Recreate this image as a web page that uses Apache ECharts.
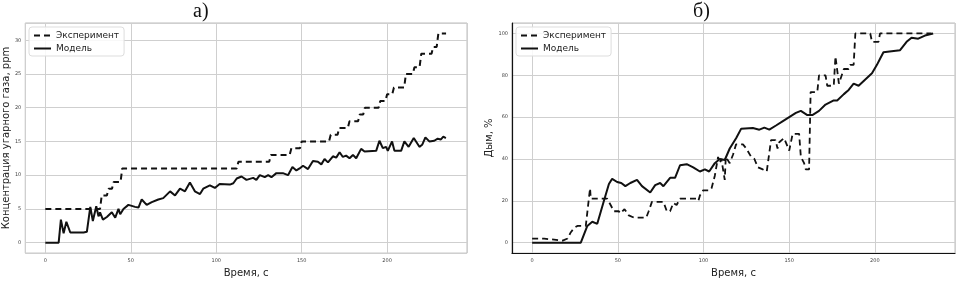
<!DOCTYPE html>
<html>
<head>
<meta charset="utf-8">
<script src="https://cdn.jsdelivr.net/npm/echarts@6/dist/echarts.min.js"></script>
<style>
  html, body { margin: 0; padding: 0; background: #fff; }
  #main { width: 959px; height: 283px; }
</style>
</head>
<body>
<div id="main"></div>
<script>
// а) CO concentration
var coExpT = [0, 32, 33, 36, 37, 39, 40, 44, 45, 112, 113, 131, 132, 143, 144, 149, 150, 166, 167, 171, 172, 177, 178, 183, 184, 186, 187, 195, 196, 199, 200, 203, 204, 210, 211, 215, 216, 219, 220, 226, 227, 229, 230, 234.5];
var coExpV = [5, 5, 7, 7, 8, 8, 9, 9, 11, 11, 12, 12, 13, 13, 14, 14, 15, 15, 16, 16, 17, 17, 18, 18, 19, 19, 20, 20, 21, 21, 22, 22, 23, 23, 25, 25, 26, 26, 28, 28, 29, 29, 31, 31];
var coModT = [0, 7.8, 9.1, 10.7, 12.3, 14.6, 19.5, 20.4, 22.4, 24.3, 26.3, 27.8, 29.8, 31.1, 32, 33.7, 36, 38.9, 40.9, 42.8, 43.8, 45.7, 48.6, 52.5, 54.5, 56.4, 59.3, 62.3, 66.1, 69, 73, 75.9, 78.8, 81.7, 84.6, 87.5, 90.5, 92.4, 96.3, 99.2, 102, 108, 110, 112, 114.8, 117.7, 121.6, 123.5, 125.5, 128.4, 130.4, 132.3, 135.2, 139, 142, 144.6, 146.9, 148.8, 150.8, 153.7, 156.6, 159.5, 161.5, 163.4, 165.4, 168.3, 170.2, 172.2, 174.1, 176, 178, 180, 181.9, 184.8, 186.8, 193.6, 195.5, 197.5, 199.4, 200.4, 202.9, 204.3, 208.2, 210.1, 212.6, 215.6, 218.9, 220.5, 222.4, 224.7, 227.6, 229.6, 231.5, 232.9, 234.4];
var coModV = [0, 0, 3.4, 1.4, 3.1, 1.5, 1.5, 1.7, 1.5, 1.6, 5.3, 3.2, 5.4, 3.9, 4.5, 3.4, 3.8, 4.5, 3.7, 5.0, 4.2, 5.0, 5.6, 5.3, 5.2, 6.4, 5.6, 6.0, 6.4, 6.6, 7.6, 7.0, 8.0, 7.6, 8.9, 7.6, 7.2, 8.0, 8.5, 8.1, 8.7, 8.6, 8.8, 9.5, 9.8, 9.3, 9.6, 9.3, 10.0, 9.7, 10.0, 9.7, 10.3, 10.3, 10.0, 11.2, 10.7, 11.0, 11.4, 10.9, 12.1, 12.0, 11.6, 12.4, 11.9, 12.8, 12.6, 13.4, 12.7, 12.9, 12.5, 13.0, 12.5, 13.9, 13.5, 13.6, 15.1, 14.0, 14.2, 13.6, 15.0, 13.6, 13.6, 15.0, 14.2, 15.5, 14.2, 14.5, 15.6, 15.0, 15.1, 15.4, 15.3, 15.7, 15.5];

// б) smoke
var smExpT = [0, 7, 8, 17.8, 20.7, 22.6, 24.5, 26.4, 31.3, 33.8, 34.2, 43.8, 45.8, 47.7, 50.6, 51.5, 53.9, 56.4, 59.3, 66.6, 68, 69.9, 76.6, 78.6, 80.5, 82.4, 84.3, 86.3, 96, 97, 97.9, 99.8, 103.7, 104.7, 106.6, 108.5, 109.5, 110.4, 111.4, 112.4, 113, 115.3, 117.2, 119, 123, 125, 127.8, 129.7, 131.7, 134.6, 136.9, 137.5, 139.4, 142, 143.2, 144.2, 147, 150, 152, 155.8, 156.8, 158.7, 159.7, 161.6, 162.5, 166.4, 167.4, 171.2, 172.2, 176, 177, 179, 181.9, 184.7, 185.6, 187.6, 188.6, 197.3, 198.3, 202.1, 203, 233];
var smExpV = [1.9, 1.9, 1, 1, 2, 5, 7, 8, 8, 26, 21, 21, 18, 15, 15, 14, 16, 13, 12, 12, 15, 19.5, 19.5, 15, 15, 19, 18, 21, 21, 20, 22.5, 25, 25, 26, 32, 41, 38, 40, 40, 30, 41, 38, 42, 47, 47, 45, 41, 40, 36, 35, 34, 34, 49, 49, 45, 48, 50, 44, 52, 52, 41, 38, 35, 35, 72, 72, 80, 80, 75, 75, 89, 76, 83, 83, 85, 85, 100, 100, 96, 96, 100, 100];
var smModT = [0, 28.4, 32.2, 35.1, 38, 41.9, 44.8, 46.7, 49.6, 52, 54.4, 57.3, 61.2, 64.1, 68.9, 71.8, 74.7, 76.6, 80.5, 83.4, 86.3, 90.2, 94, 97.9, 100.8, 103.3, 106.6, 109.5, 112.4, 115.3, 119.1, 122, 128.8, 132.6, 135.5, 138.4, 142.3, 146.1, 150, 153.9, 156.8, 160.6, 163.5, 167.4, 171.2, 176, 178, 181.9, 184.7, 187.6, 190.5, 194.4, 198.3, 201.2, 203.1, 205, 209.8, 214.7, 218.5, 221.4, 225.3, 229.2, 234];
var smModV = [0, 0, 8, 10, 9, 20, 28, 30.5, 29, 28.5, 27, 28.5, 30, 27, 24, 27.5, 28.5, 27, 31, 31, 37, 37.5, 36, 34, 35, 34, 38, 40, 39.5, 45, 50, 54.5, 54.8, 54, 55, 54, 56, 58, 60, 62, 63, 61, 61, 63, 66, 68, 68, 71, 73, 76, 75, 78, 81, 85, 88, 91, 91.5, 92, 96, 98, 97.5, 99, 100];

function pairs(t, v) {
  return t.map(function (x, i) { return [x, v[i]]; });
}

var chart = echarts.init(document.getElementById('main'));
var font = 'DejaVu Sans';
var gridColor = '#cfcfcf';

function xAx(gi) {
  return {
    type: 'value', gridIndex: gi, min: -11.75, max: 246.75, splitNumber: 5,
    name: 'Время, с', nameLocation: 'middle', nameGap: 12,
    nameTextStyle: { fontFamily: font, fontSize: 10, color: '#222' },
    axisLine: gi === 1 ? { show: true, onZero: false, lineStyle: { color: '#111', width: 1.2 } } : { show: false },
    axisTick: { show: false },
    axisLabel: { fontFamily: font, fontSize: 5, color: '#444', margin: 5, showMinLabel: false, showMaxLabel: false },
    splitLine: { show: true, lineStyle: { color: gridColor, width: 1 } }
  };
}
function yAx(gi, min, max, split, name, gap) {
  return {
    type: 'value', gridIndex: gi, min: min, max: max, splitNumber: split,
    name: name, nameLocation: 'middle', nameGap: gap,
    nameTextStyle: { fontFamily: font, fontSize: 10, color: '#222' },
    axisLine: gi === 1 ? { show: true, onZero: false, lineStyle: { color: '#111', width: 1.2 } } : { show: false },
    axisTick: { show: false },
    axisLabel: { fontFamily: font, fontSize: 5, color: '#444', margin: 4, showMinLabel: false, showMaxLabel: false },
    splitLine: { show: true, lineStyle: { color: gridColor, width: 1 } }
  };
}

function legend(left) {
  return {
    left: left, top: 27, orient: 'vertical',
    data: ['Эксперимент', 'Модель'],
    itemWidth: 17, itemHeight: 6, itemGap: 4,
    padding: [4, 5, 3, 4],
    borderColor: '#dddddd', borderWidth: 1, borderRadius: 3,
    backgroundColor: 'rgba(255,255,255,0.85)',
    itemStyle: { opacity: 0 },
    textStyle: { fontFamily: font, fontSize: 9, color: '#222' }
  };
}

var option = {
  animation: false,
  backgroundColor: '#fff',
  title: [
    { text: 'а)', left: 188, top: -3, textStyle: { fontFamily: 'Liberation Serif', fontSize: 20, fontWeight: 'normal', color: '#111' } },
    { text: 'б)', left: 688, top: -3, textStyle: { fontFamily: 'Liberation Serif', fontSize: 20, fontWeight: 'normal', color: '#111' } }
  ],
  grid: [
    { left: 25, right: 492, top: 23, bottom: 25, show: true, borderColor: '#bdbdbd', borderWidth: 1 },
    { left: 512, right: 4, top: 23, bottom: 24, show: true, borderColor: '#bdbdbd', borderWidth: 1 }
  ],
  legend: [legend(29), legend(516)],
  xAxis: [xAx(0), xAx(1)],
  yAxis: [
    yAx(0, -1.55, 32.55, 7, 'Концентрация угарного газа, ppm', 14),
    yAx(1, -5, 105, 5, 'Дым, %', 16)
  ],
  series: [
    { name: 'Эксперимент', type: 'line', xAxisIndex: 0, yAxisIndex: 0, data: pairs(coExpT, coExpV),
      showSymbol: false, symbol: 'none', lineStyle: { color: '#111', width: 2, type: [6, 4] }, itemStyle: { color: '#111' } },
    { name: 'Модель', type: 'line', xAxisIndex: 0, yAxisIndex: 0, data: pairs(coModT, coModV),
      showSymbol: false, symbol: 'none', lineStyle: { color: '#111', width: 2 }, itemStyle: { color: '#111' } },
    { name: 'Эксперимент', type: 'line', xAxisIndex: 1, yAxisIndex: 1, data: pairs(smExpT, smExpV),
      showSymbol: false, symbol: 'none', lineStyle: { color: '#111', width: 1.8, type: [6, 4] }, itemStyle: { color: '#111' } },
    { name: 'Модель', type: 'line', xAxisIndex: 1, yAxisIndex: 1, data: pairs(smModT, smModV),
      showSymbol: false, symbol: 'none', lineStyle: { color: '#111', width: 2 }, itemStyle: { color: '#111' } }
  ]
};

chart.setOption(option);
</script>
</body>
</html>
